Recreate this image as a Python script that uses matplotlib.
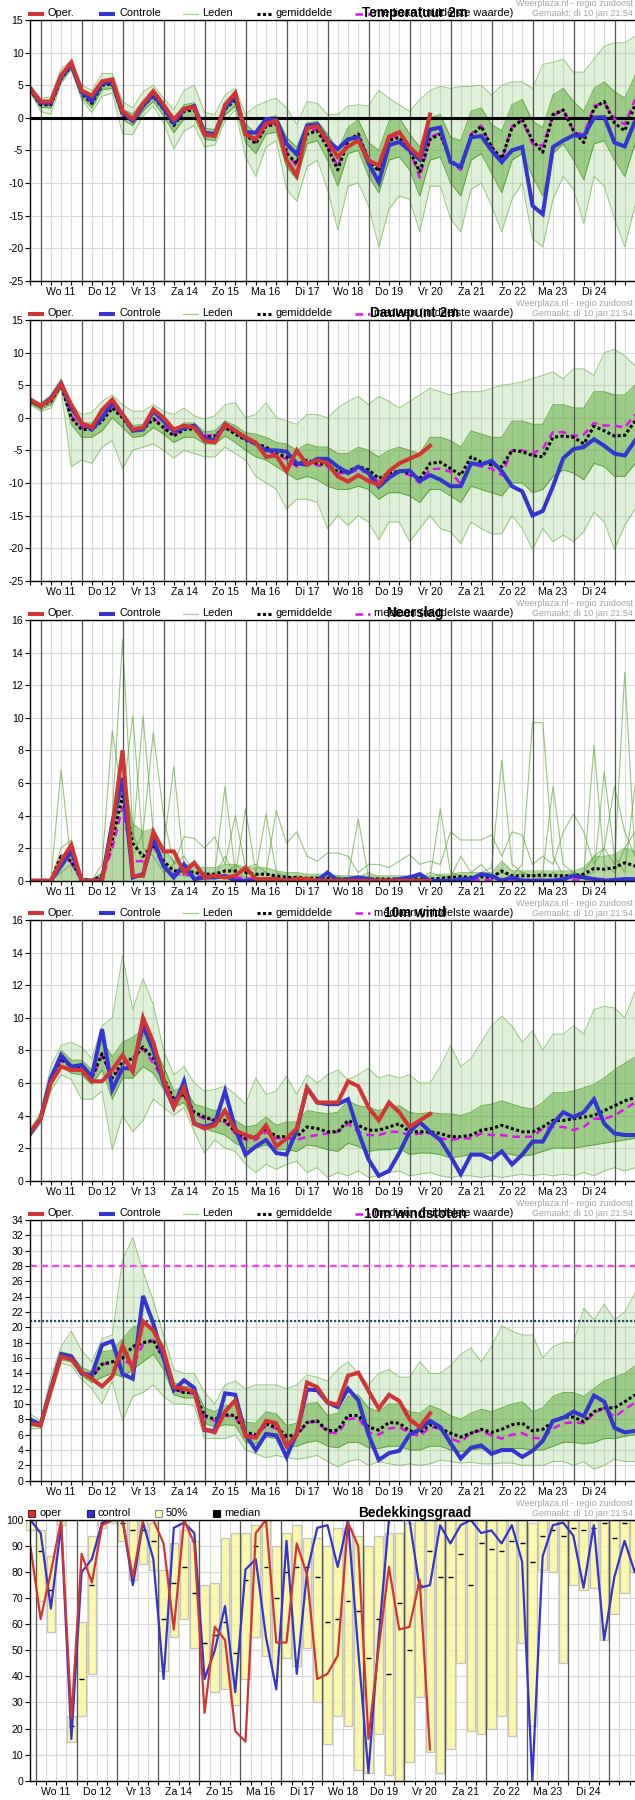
import matplotlib
matplotlib.use('Agg')
import matplotlib.pyplot as plt
from matplotlib.lines import Line2D
from matplotlib.patches import Rectangle
import numpy as np

plt.rcParams['font.family'] = ['Liberation Sans', 'DejaVu Sans']

# ---------------- data ----------------
day_labels = ['Wo 11', 'Do 12', 'Vr 13', 'Za 14', 'Zo 15', 'Ma 16', 'Di 17',
              'Wo 18', 'Do 19', 'Vr 20', 'Za 21', 'Zo 22', 'Ma 23', 'Di 24']
titles = ['Temperatuur 2m', 'Dauwpunt 2m', 'Neerslag', '10m wind', '10m windstoten', 'Bedekkingsgraad']
legend_labels = ['Oper.', 'Controle', 'Leden', 'gemiddelde', 'mediaan (middelste waarde)']
legend6_labels = ['oper', 'control', '50%', 'median']
site_text = 'Weerplaza.nl - regio zuidoost'
made_text = 'Gemaakt: di 10 jan 21:54'
gust_thresholds = [20.8, 28.0]

# Temperature 2m
T_oper = [4.5,2.5,2.5,6.5,8.5,4.2,3.4,5.6,5.9,1.0, -0.2,2.2,4.1,2.0,-0.3,1.4,1.6,-2.6,-2.8,2.0,
          3.8,-2.5,-3.3,-0.9,-0.5,-6.5,-8.9,-1.6,-1.3,-3.6, -6.0,-4.4,-3.5,-6.6,-7.3,-2.9,-2.2,-4.5,-6.0,0.5]
T_ctrl = [4.5,2.3,2.3,6.3,8.2,4.0,2.6,5.3,5.5,0.8, -0.5,1.8,3.6,1.5,-0.8,1.3,1.8,-2.3,-2.5,1.5,
          3.3,-2.2,-2.3,-0.2,-0.3,-4.0,-5.6,-1.2,-1.0,-3.5, -4.8,-3.3,-3.0,-7.0,-9.9,-4.2,-3.7,-5.0,-6.4,-1.8,
          -1.5,-6.8,-7.5,-3.0,-2.8,-5.0,-6.8,-5.0,-4.5,-13.5, -14.8,-4.5,-3.5,-2.7,-2.8,0.0,0.1,-3.8,-4.4,-0.5]
T_mean = [4.3,2.0,2.0,6.0,8.0,3.8,2.2,5.0,5.2,0.5, -0.3,1.8,3.3,1.3,-1.2,1.0,1.2,-2.5,-2.8,1.3,
          2.8,-2.5,-4.0,-1.3,-1.0,-5.5,-7.0,-2.5,-2.0,-4.5, -8.0,-3.5,-2.5,-6.5,-8.2,-3.5,-3.0,-5.0,-8.3,-3.3,
          -2.5,-6.5,-7.8,-2.8,-1.3,-4.5,-6.3,-1.5,-0.3,-3.5, -5.3,0.5,1.2,-2.0,-3.8,1.5,2.5,-0.8,-2.0,2.0]
T_med = [4.3,2.0,2.0,6.0,8.0,3.8,2.3,5.2,5.3,0.6, -0.3,1.8,3.4,1.3,-1.0,1.2,1.3,-2.4,-2.7,1.5,
         3.0,-2.3,-3.8,-1.2,-0.8,-5.2,-7.5,-2.2,-1.8,-4.3, -7.5,-3.3,-2.8,-6.2,-8.0,-3.2,-2.7,-4.8,-9.2,-3.0,
         -2.3,-6.8,-8.0,-2.5,-1.2,-4.5,-6.5,-1.3,-0.3,-4.0, -4.3,0.3,1.2,-2.0,-2.7,1.8,2.3,-0.2,-1.0,2.8]
T_lo = [4.0,1.0,0.5,5.3,7.3,2.8,0.8,3.3,3.8,-2.5, -2.6,0.3,1.8,-0.8,-4.8,-2.0,-1.2,-4.5,-4.2,-0.5,
        1.2,-6.0,-9.0,-4.5,-3.5,-11.0,-12.8,-7.5,-6.5,-11.0, -17.2,-10.5,-10.0,-13.5,-19.8,-14.0,-12.0,-12.5,-17.5,-10.5,
        -10.5,-15.5,-17.5,-11.0,-10.0,-13.5,-17.5,-12.5,-10.0,-18.5, -19.8,-12.5,-9.0,-11.0,-16.2,-9.0,-10.5,-15.5,-19.8,-13.5]
T_hi = [5.0,3.0,3.2,7.5,8.8,5.0,4.2,6.8,6.8,2.5, 1.5,4.0,5.0,3.0,1.2,4.2,5.0,0.8,0.5,3.5,
        4.5,0.5,1.8,2.5,3.0,1.5,-1.0,2.5,2.2,0.5, 0.5,1.8,2.0,1.8,4.2,3.0,2.0,1.0,2.8,4.2,
        4.8,4.5,4.8,4.8,5.0,3.5,5.0,5.5,5.5,4.5, 8.2,8.5,9.0,7.0,7.0,9.0,11.0,11.5,11.5,12.5]
T_q1 = [3.9,1.6,1.5,5.6,7.6,3.2,1.5,4.3,4.5,-0.3, -1.2,1.0,2.5,0.3,-2.3,-0.2,0.0,-3.3,-3.5,0.4,
        1.8,-3.8,-5.5,-2.5,-2.2,-7.5,-9.5,-4.0,-3.5,-6.5, -10.5,-5.5,-5.0,-9.0,-11.5,-6.5,-6.0,-8.0,-12.0,-6.5,
        -6.0,-10.0,-12.0,-6.5,-5.5,-8.5,-11.5,-6.5,-5.5,-9.0, -12.0,-5.5,-4.0,-6.5,-9.5,-4.0,-3.5,-6.5,-9.0,-4.0]
T_q3 = [4.7,2.5,2.5,6.5,8.4,4.4,3.0,5.7,5.9,1.3, 0.6,2.6,4.0,2.2,0.0,2.0,2.3,-1.6,-1.8,2.2,
        3.6,-1.0,-2.3,0.0,0.3,-3.0,-4.5,-0.8,-0.5,-2.5, -5.0,-1.5,-0.3,-3.8,-5.0,-0.5,0.0,-2.5,-4.5,0.0,
        0.5,-3.0,-3.5,1.0,1.5,-1.0,-2.0,2.0,2.8,-0.5, -1.5,3.5,4.5,2.5,1.0,4.5,5.5,4.0,3.0,6.5]

# Dew point 2m
D_oper = [2.8,1.8,2.8,5.2,2.0,-0.8,-1.5,1.2,2.8,0.5, -1.8,-1.5,1.3,0.0,-1.8,-1.2,-1.5,-3.5,-3.8,-1.0,
          -2.0,-3.0,-3.8,-6.0,-5.8,-8.2,-5.0,-7.2,-6.5,-7.0, -9.0,-9.8,-8.8,-9.7,-10.3,-8.2,-7.0,-6.3,-5.6,-4.3]
D_ctrl = [2.7,1.8,3.0,5.3,1.5,-0.8,-1.8,0.0,2.3,0.5, -2.0,-1.8,1.0,-0.5,-2.0,-1.6,-1.2,-3.2,-3.4,-1.0,
          -2.0,-3.2,-4.0,-5.0,-5.0,-5.2,-7.0,-7.2,-6.3,-6.3, -7.5,-8.5,-7.5,-8.5,-10.6,-9.2,-8.2,-8.1,-9.7,-8.8,
          -9.5,-10.5,-10.5,-7.0,-7.2,-6.6,-8.2,-10.5,-11.3,-15.0, -14.3,-10.5,-6.2,-4.8,-4.5,-3.3,-4.3,-5.5,-5.8,-3.5]
D_mean = [2.5,1.8,2.5,5.0,0.0,-1.8,-1.8,-0.5,1.5,0.0, -2.0,-1.8,-0.2,-1.5,-2.8,-1.8,-1.7,-3.0,-2.8,-1.5,
          -2.5,-3.4,-4.0,-4.5,-5.5,-6.0,-7.2,-6.5,-7.0,-7.2, -8.3,-8.2,-7.5,-8.0,-9.3,-8.5,-8.2,-8.5,-9.4,-7.0,
          -6.8,-7.8,-8.8,-6.0,-6.8,-7.2,-7.5,-5.0,-5.2,-5.8, -6.0,-3.0,-2.8,-3.0,-4.0,-1.3,-2.0,-2.8,-2.7,-0.5]
D_med = [2.6,1.8,2.6,5.1,0.3,-1.5,-1.6,-0.2,1.8,0.2, -1.8,-1.6,0.0,-1.3,-2.6,-1.6,-1.5,-2.8,-2.6,-1.3,
         -2.3,-3.3,-4.0,-4.8,-5.8,-6.3,-7.5,-6.8,-7.3,-7.5, -8.5,-8.5,-8.0,-8.5,-9.8,-8.7,-8.3,-8.8,-10.0,-7.9,
         -7.8,-8.3,-10.2,-7.0,-7.5,-7.8,-8.8,-5.0,-5.0,-5.5, -4.7,-2.2,-2.2,-2.8,-2.6,-0.8,-1.2,-1.2,-1.5,0.5]
D_lo = [2.0,1.0,1.5,4.5,-7.5,-6.5,-7.0,-4.5,-3.5,-7.8, -5.0,-4.5,-4.0,-5.0,-6.2,-5.0,-5.5,-6.0,-6.0,-4.5,
        -5.5,-6.5,-9.0,-10.0,-11.0,-14.0,-12.5,-12.5,-13.0,-17.0, -15.0,-16.5,-15.0,-16.0,-18.7,-16.0,-16.0,-19.0,-17.0,-15.0,
        -17.0,-17.5,-19.3,-16.0,-17.0,-17.8,-17.8,-15.0,-17.0,-20.2, -17.0,-19.0,-18.0,-19.0,-17.5,-14.5,-16.0,-20.2,-16.5,-14.0]
D_hi = [3.0,2.3,3.5,6.0,2.0,0.5,0.8,2.5,3.5,2.0, 1.0,1.0,2.0,1.0,0.5,1.5,0.3,-0.2,0.3,2.0,
        2.3,0.0,0.5,2.3,0.0,-0.5,-1.0,0.5,0.5,0.0, 1.5,2.5,3.3,2.0,3.3,2.5,1.5,2.5,3.5,4.5,
        4.0,3.5,4.0,4.0,4.0,4.5,5.0,5.2,5.5,6.0, 6.5,7.0,6.0,7.5,7.5,6.5,10.0,10.5,9.5,8.0]
D_q1 = [2.2,1.3,2.0,4.8,-1.0,-3.0,-3.0,-2.0,0.0,-1.5, -3.0,-2.8,-1.5,-2.5,-3.8,-3.0,-3.0,-4.0,-4.0,-2.8,
        -3.8,-5.0,-6.0,-6.5,-7.5,-8.5,-9.5,-9.0,-9.5,-10.5, -11.0,-11.0,-10.5,-11.0,-12.5,-11.5,-11.5,-12.0,-13.0,-11.0,
        -11.0,-12.0,-13.0,-10.5,-11.0,-11.5,-12.0,-10.0,-10.0,-11.5, -11.0,-9.0,-8.0,-8.5,-9.5,-7.0,-7.5,-9.0,-9.0,-7.0]
D_q3 = [2.8,2.0,2.9,5.3,1.0,-0.8,-0.8,0.8,2.5,0.8, -1.2,-1.0,0.8,-0.5,-1.8,-0.8,-0.8,-2.2,-2.0,-0.5,
        -1.2,-2.3,-2.5,-3.0,-3.8,-4.0,-5.0,-4.0,-4.5,-4.5, -5.5,-5.5,-4.5,-5.0,-6.0,-5.0,-4.5,-5.0,-5.5,-3.0,
        -3.0,-3.5,-4.5,-2.0,-2.5,-3.0,-3.0,-0.5,-0.5,-1.0, -1.0,2.0,2.0,1.5,1.5,4.0,4.0,3.5,3.5,5.0]

# Precipitation
P_oper = [0,0,0,1.2,2.2,0,0,0,3.2,8.0, 0.3,0.3,3.0,1.8,1.8,0.5,1.1,0.2,0.3,0.2,
          0.3,0.8,0.1,0.1,0.1,0.0,0.1,0.1,0.0,0.0, 0,0,0,0,0,0,0,0,0,0]
P_ctrl = [0,0,0,0.9,1.8,0,0,0.1,3.5,6.3, 0.2,0.4,2.6,0.9,0.2,1.0,0.1,0.2,0.2,0.3,
          0,0,0,0,0,0,0.1,0,0,0.5, 0,0.1,0.2,0.1,0,0,0.1,0.2,0.4,0,
          0,0,0.1,0.1,0.4,0.3,0,0.2,0,0, 0,0,0.1,0.3,0.2,0.1,0,0.05,0.1,0.1]
P_mean = [0,0,0,1.5,1.2,0.1,0,0.3,2.5,5.2, 2.3,1.5,2.2,1.2,0.6,0.6,0.5,0.4,0.4,0.6,
          0.6,0.5,0.4,0.4,0.3,0.2,0.2,0.15,0.15,0.15, 0.1,0.1,0.15,0.1,0.1,0.1,0.1,0.1,0.1,0.1,
          0.15,0.2,0.25,0.2,0.25,0.2,0.6,0.3,0.3,0.3, 0.35,0.3,0.3,0.3,0.4,0.75,0.7,0.8,1.1,0.9]
P_med = [0,0,0,1.1,1.1,0,0,0.1,2.0,4.5, 1.2,1.2,2.2,0.8,0.4,0.4,0.3,0.2,0.2,0.2,
         0.2,0.15,0.1,0.1,0.05,0.05,0.05,0,0,0, 0,0,0,0,0,0,0,0,0,0,
         0,0,0.05,0.05,0.05,0.05,0.1,0.05,0.05,0.05, 0.05,0.05,0.05,0.05,0.1,0.1,0.1,0.05,0.1,0.1]
P_m1 = [0,0,0,6.8,1.0,0,0,0.5,4.0,14.8, 3.0,1.0,2.0,1.0,0.5,0.3,0.2,0.2,0.5,5.8,
        0.5,0.2,0.1,0.1,0.3,0.2,0.1,0,0,0.1, 0.2,0.1,0,0,0.1,0,0,0.3,0.1,0,
        0.1,0.3,0.2,0.1,0.5,0.8,7.4,1.0,0.5,0.3, 0.2,0.5,0.3,0.2,0.5,1.5,2.0,1.0,12.8,1.5]
P_m2 = [0,0,0,2.0,2.5,0.1,0,1.0,9.2,5.0, 10.1,2.0,1.5,0.5,1.0,1.5,0.5,0.2,0.3,0.2,
        1.0,0.5,0.3,0.5,0.2,0.1,0.3,0.1,0.1,0.2, 0.1,0.2,3.8,0.2,0.1,0.1,0,0.1,0.2,0.1,
        4.4,0.5,0.3,0.2,0.1,0.2,0.5,0.3,1.0,9.7, 9.7,1.5,0.3,0.5,0.3,8.3,1.0,0.5,2.0,3.0]
P_m3 = [0,0,0,1.0,2.0,0,0,0.2,3.0,8.0, 2.5,10.1,3.0,2.0,7.0,0.8,1.2,0.5,0.3,1.5,
        0.3,4.4,0.5,4.1,0.5,0.3,0.2,0.2,0.3,0.1, 0.3,0.1,0.2,0.5,0.2,0.1,0.2,0.2,0.1,0.5,
        0.3,0.2,1.5,0.5,1.0,0.3,0.5,0.2,0.5,0.3, 0.5,5.8,1.0,0.5,0.3,0.5,6.7,1.5,0.5,5.8]
P_m4 = [0,0,0,0.5,1.0,0.2,0.1,0.3,2.0,6.0, 1.5,3.0,9.1,4.0,1.0,2.7,2.6,2.0,2.7,1.0,
        4.0,0.8,1.0,0.5,4.3,2.3,3.0,1.5,1.2,1.7, 1.7,1.5,0.5,1.0,1.0,0.8,1.2,1.6,1.0,1.2,
        1.0,3.0,2.5,2.5,2.5,2.8,1.5,3.0,2.8,1.0, 1.5,1.0,3.0,4.1,3.0,1.0,2.0,5.8,3.0,1.5]
P_q3 = [0.05,0.05,0.05,1.6,1.6,0.1,0.05,0.5,4.0,6.5, 3.5,3.0,3.2,2.0,1.2,1.0,0.9,0.8,0.8,1.0,
        1.0,0.8,0.8,0.8,0.6,0.5,0.5,0.4,0.4,0.4, 0.3,0.3,0.3,0.3,0.3,0.3,0.3,0.3,0.3,0.3,
        0.4,0.4,0.5,0.5,0.5,0.5,1.2,0.6,0.6,0.6, 0.6,0.6,0.6,0.6,0.8,1.5,1.5,1.6,2.0,1.8]

# 10m wind
W_oper = [3.0,3.8,6.0,7.0,6.8,6.8,6.1,6.1,6.8,7.7, 6.7,10.0,8.5,6.2,4.5,5.7,3.5,3.2,3.4,4.3,
          3.1,2.8,2.6,3.4,2.1,2.6,3.2,5.7,4.8,4.8, 4.8,6.1,5.8,4.5,3.7,4.8,4.2,3.3,3.7,4.1]
W_ctrl = [2.9,3.8,6.3,7.7,7.0,7.1,6.4,9.3,5.6,6.9, 6.9,9.5,8.0,6.0,4.5,6.1,3.5,3.3,3.5,5.5,
          3.2,1.6,2.1,2.5,1.7,1.6,3.1,5.7,4.8,4.7, 4.7,5.0,3.0,1.3,0.3,0.6,1.7,3.0,3.6,3.0,
          2.5,1.5,0.4,1.6,1.6,1.3,1.8,1.0,1.6,2.4, 2.4,3.5,4.2,3.9,4.2,5.0,3.5,2.9,2.8,2.8]
W_mean = [3.0,3.8,6.0,7.5,7.0,7.0,6.3,7.8,6.3,7.3, 7.5,8.2,7.5,6.3,5.0,5.3,4.2,3.9,3.7,3.7,
          3.0,2.6,2.7,3.2,2.7,2.7,2.7,3.3,3.2,3.0, 3.0,3.7,3.4,3.1,3.1,3.3,3.5,3.0,3.0,3.0,
          2.9,2.7,2.7,2.8,3.1,3.2,3.4,3.2,3.0,3.0, 3.3,3.7,3.7,3.8,3.9,4.0,4.3,4.6,4.9,5.1]
W_med = [3.0,3.8,6.0,7.4,7.0,6.9,6.2,7.7,6.2,7.2, 7.4,8.1,7.2,6.2,4.9,5.2,4.1,3.8,3.7,3.6,
         2.9,2.5,2.5,3.0,2.6,2.6,2.5,2.7,2.8,2.9, 3.0,3.5,3.0,2.8,2.8,3.0,3.0,2.8,2.9,2.9,
         2.6,2.5,2.6,2.6,2.9,2.8,2.8,2.7,2.7,2.7, 3.2,3.3,3.3,3.1,3.3,3.8,3.8,4.0,4.4,4.8]
W_lo = [2.7,3.5,5.5,6.5,6.2,5.0,5.0,5.5,1.9,4.0, 3.0,3.7,5.0,4.5,4.0,4.5,3.0,1.7,2.5,2.0,
        1.8,1.0,0.5,1.0,0.7,1.0,1.2,0.5,0.8,0.2, 0.5,0.3,0.6,0.2,0.3,0.5,0.6,0.3,0.4,0.5,
        0.3,0.2,0.3,0.3,0.2,0.3,0.2,0.3,0.4,0.3, 0.4,0.3,0.4,0.3,0.5,0.3,0.6,0.8,0.6,0.8]
W_hi = [3.2,4.2,7.0,8.3,8.5,8.2,7.5,9.5,10.0,13.8, 10.5,12.4,10.8,8.0,6.5,7.0,6.0,5.5,5.6,5.8,
        5.3,4.7,6.3,5.3,5.5,6.4,5.3,6.5,6.0,6.5, 6.8,6.2,6.5,6.9,6.3,6.5,6.3,6.5,6.0,6.0,
        7.0,8.3,7.0,7.5,8.5,9.5,10.1,9.5,8.5,9.2, 8.0,9.0,9.0,9.5,9.0,10.5,10.7,10.6,10.0,11.6]
W_q1 = [2.9,3.7,5.8,7.0,6.6,6.5,5.9,6.8,5.0,6.3, 6.3,7.0,6.6,5.6,4.5,4.8,3.6,3.2,3.0,2.8,
        2.3,2.0,2.0,2.2,1.9,1.9,1.8,2.2,2.1,1.9, 1.8,2.3,2.1,1.8,1.9,1.9,2.0,1.6,1.7,1.7,
        1.6,1.4,1.5,1.6,1.7,1.7,1.7,1.6,1.5,1.6, 1.8,2.0,2.0,2.0,2.1,2.2,2.3,2.4,2.5,2.6]
W_q3 = [3.1,4.0,6.3,8.0,7.4,7.4,6.8,8.6,7.6,8.5, 8.8,9.3,8.4,7.0,5.5,5.8,4.7,4.5,4.3,4.4,
        3.7,3.3,3.4,3.9,3.4,3.6,3.6,4.3,4.2,4.1, 4.2,4.9,4.6,4.5,4.3,4.5,4.6,4.2,4.1,4.2,
        4.1,4.1,4.0,4.2,4.6,4.7,4.9,4.7,4.5,4.4, 4.8,5.4,5.4,5.5,5.7,5.9,6.3,6.8,7.2,7.6]

# 10m gusts
G_oper = [7.5,7.2,11.8,16.2,15.8,14.2,13.3,12.3,13.6,17.6, 14.6,20.8,19.6,17.0,12.2,12.0,11.6,6.7,6.3,9.0,
          10.5,5.8,5.6,7.8,7.5,4.5,6.0,12.8,12.2,10.2, 9.9,13.7,14.1,11.7,9.4,11.2,10.4,8.0,7.0,8.8]
G_ctrl = [8.0,7.3,12.0,16.5,16.2,14.0,13.8,17.7,18.2,13.9, 13.3,24.1,20.5,16.0,11.8,13.1,12.1,6.6,6.5,11.4,
          11.2,6.0,4.0,6.1,5.9,3.1,6.2,11.9,11.8,10.2, 9.6,12.0,10.5,6.0,2.7,3.6,3.9,6.0,6.7,7.8,
          7.0,4.9,2.9,4.3,4.6,3.5,4.0,4.0,3.1,3.9, 5.2,7.8,8.2,9.0,8.4,11.1,10.3,6.9,6.3,6.5]
G_mean = [7.5,7.2,12.0,16.3,16.0,14.2,13.5,15.2,15.5,16.0, 17.5,18.0,18.3,16.0,12.0,11.5,11.5,8.5,8.0,8.6,
          8.5,6.3,6.0,7.4,7.0,5.8,6.0,7.6,7.8,6.5, 6.6,8.5,8.5,7.0,6.6,7.6,7.5,6.5,6.3,7.3,
          6.8,6.2,5.7,6.2,6.7,6.3,6.7,7.3,7.5,6.5, 6.7,7.7,8.3,8.3,7.7,9.0,9.5,9.5,10.3,11.2]
G_med = [7.5,7.2,12.0,16.2,15.9,14.2,13.5,15.2,15.3,15.8, 15.0,17.8,18.3,16.0,12.0,11.5,11.3,8.3,7.8,8.5,
         8.3,6.1,5.8,7.2,6.8,5.5,5.8,7.6,7.7,6.3, 6.2,8.0,8.2,6.3,6.0,6.8,7.0,6.2,5.8,7.0,
         6.8,5.5,5.0,6.3,6.5,5.9,5.5,6.0,6.2,5.6, 5.5,6.8,7.5,7.6,7.5,8.8,9.5,8.3,9.3,10.2]
G_lo = [6.8,6.8,11.0,15.3,15.0,13.2,12.0,10.0,13.0,7.8, 11.0,11.5,12.5,11.0,10.0,10.0,9.8,5.5,5.5,5.5,
        6.0,4.0,3.5,3.0,3.3,3.0,2.8,3.0,3.3,2.5, 1.8,2.5,2.8,2.0,2.5,2.2,2.0,2.2,2.0,2.2,
        2.7,2.5,2.3,2.4,2.2,2.2,2.3,2.3,2.0,2.0, 2.0,2.5,2.5,2.0,2.5,1.5,2.0,2.8,2.5,2.5]
G_hi = [8.7,7.8,13.5,17.5,19.5,17.0,15.5,18.5,19.0,28.8, 31.7,27.3,23.5,19.0,14.5,14.0,14.0,11.5,10.0,12.5,
        13.0,12.0,12.5,12.5,12.5,12.0,12.5,13.8,13.5,13.0, 14.5,15.5,14.0,12.5,14.0,14.5,13.5,13.5,15.5,14.0,
        14.0,15.0,16.5,17.3,15.5,17.5,20.2,19.5,19.0,19.0, 16.0,17.5,18.0,18.0,22.5,21.0,23.0,21.0,22.0,24.5]
G_q1 = [7.2,7.0,11.5,15.8,15.5,13.7,12.8,13.5,14.0,13.5, 14.5,15.5,16.5,14.5,11.2,10.8,10.8,7.5,7.0,7.3,
        7.2,5.0,4.8,5.7,5.5,4.5,4.5,5.0,5.2,4.5, 4.3,5.0,5.0,4.3,4.2,4.5,4.5,4.0,4.0,4.5,
        4.5,4.0,3.8,4.0,4.2,4.0,4.0,4.2,4.2,4.0, 4.0,4.5,5.0,5.0,4.8,5.0,5.5,5.5,5.8,6.0]
G_q3 = [7.8,7.4,12.5,16.8,16.5,14.8,14.2,16.8,17.0,18.5, 20.0,20.5,20.0,17.5,12.8,12.3,12.3,9.5,9.0,9.8,
        9.8,7.6,7.5,9.0,8.7,7.2,7.5,10.0,10.2,8.5, 8.8,11.0,11.2,9.5,9.0,10.0,10.0,9.0,8.8,9.8,
        9.3,8.5,8.0,8.8,9.3,9.0,9.5,10.0,10.3,9.0, 9.5,11.0,11.5,11.5,11.0,12.0,13.0,13.5,14.0,15.0]

# Cloud cover
C_oper = [90,62,80,100,24,87,76,98,100,100, 78,100,100,91,58,100,91,26,59,54,
          19,15,95,100,53,53,91,79,39,41, 48,99,90,16,51,82,58,59,77,12]
C_ctrl = [100,95,66,98,16,80,85,99,100,100, 75,99,85,39,97,99,95,39,50,67,
          34,81,85,55,35,92,41,80,97,98, 82,100,50,3,55,100,100,100,74,75,
          98,91,98,100,95,96,91,98,84,0, 86,98,99,94,74,98,54,78,92,80]
C_q25 = [96,69,57,98,15,25,41,97,99,92, 77,83,81,42,55,62,51,41,34,35,
         29,39,55,48,40,47,44,51,30,14, 25,21,4,3,18,2,0,7,32,11,
         3,12,45,19,18,20,25,17,53,21, 81,80,45,75,73,74,54,64,72,80]
C_q75 = [100,96,86,100,25,61,94,100,100,100, 100,100,99,81,91,96,92,75,76,93,
         95,95,98,100,90,95,98,93,93,90, 97,97,94,90,94,95,95,99,100,100,
         100,100,100,100,100,100,100,100,100,99, 100,100,100,100,100,100,100,100,100,100]
C_p50 = [100,88,73,100,21,39,75,99,100,99, 96,96,92,62,76,82,72,53,56,61,
         49,77,90,82,70,80,82,82,78,61, 62,69,65,47,62,41,68,50,75,88,
         78,78,87,75,91,89,88,92,91,84, 94,96,94,97,96,97,99,93,99,100]

# ---------------- styling ----------------
W, H = 635, 1800
RED = '#d23434'
BLUE = '#3434d0'
MAG = '#e010f0'
DAYC = '#555555'
GRIDC = '#d9d9d9'

fig = plt.figure(figsize=(W / 100, H / 100), dpi=100)


def fx(x):
    return x / W


def fy(y):
    return 1 - y / H


def make_axes(l, t, r, b):
    return fig.add_axes([l / W, 1 - b / H, (r - l) / W, (b - t) / H])


def style_axes(ax, xmin, xmax, ymin, ymax, ystep):
    ax.set_xlim(xmin, xmax)
    ax.set_ylim(ymin, ymax)
    yt = np.arange(ymin, ymax + 1e-6, ystep)
    ax.set_yticks(yt)
    ax.set_yticklabels(['%g' % v for v in yt])
    for v in yt:
        ax.axhline(v, color=GRIDC, lw=0.8, zorder=0)
    xt = np.arange(-0.25, xmax + 1e-6, 0.25)
    xt = xt[xt >= xmin - 1e-6]
    labs = []
    for x in xt:
        d = x - 0.5
        if abs(d - round(d)) < 1e-6 and 0 <= round(d) < len(day_labels):
            labs.append(day_labels[int(round(d))])
        else:
            labs.append('')
        if abs(x - round(x)) < 1e-6:
            ax.axvline(x, color=DAYC, lw=0.9, zorder=2.2)
        else:
            ax.axvline(x, color=GRIDC, lw=0.8, zorder=0)
    ax.set_xticks(xt)
    ax.set_xticklabels(labs)
    ax.tick_params(axis='x', length=3, width=0.8, pad=1.5, labelsize=7.6)
    ax.tick_params(axis='y', length=3.5, width=0.8, pad=1.5, labelsize=7.6)
    for s in ('top', 'left', 'bottom'):
        ax.spines[s].set_color('black')
        ax.spines[s].set_linewidth(1.0)
        ax.spines[s].set_zorder(6)
    ax.spines['right'].set_visible(False)
    ax.set_facecolor('white')


def header(y0):
    fig.text(fx(633), fy(y0 + 3.8), site_text, ha='right', va='center', fontsize=6.5, color='#a3a3ab')
    fig.text(fx(633), fy(y0 + 13.3), made_text, ha='right', va='center', fontsize=6.5, color='#a3a3ab')


def title_text(y0, title):
    fig.text(fx(415), fy(y0 + 13.5), title, ha='center', va='center', fontsize=9.8,
             fontweight='bold', color='black', zorder=10)


def legend(y0):
    yy = fy(y0 + 13.5)
    specs = [(28, 44, dict(color=RED, lw=2.9, solid_capstyle='butt')),
             (99, 115, dict(color=BLUE, lw=2.9, solid_capstyle='butt')),
             (183, 198, dict(color='#9fd08a', lw=0.9)),
             (257, 271, dict(color='black', lw=2.2, ls=(0, (1, 0.8)))),
             (355, 370, dict(color=MAG, lw=1.8, ls=(0, (3, 2))))]
    for (x1, x2, st), lab in zip(specs, legend_labels):
        fig.add_artist(Line2D([fx(x1), fx(x2)], [yy, yy], transform=fig.transFigure, **st))
        fig.text(fx(x2 + 4), yy, lab, ha='left', va='center', fontsize=7.9)


t = -0.25 + 0.25 * np.arange(60)
t_op = t[:40]


def draw_core(ax, oper, ctrl, mean, med):
    ax.plot(t, med, color=MAG, lw=1.8, ls=(0, (3, 2)), zorder=3)
    ax.plot(t, mean, color='black', lw=2.2, ls=(0, (1, 0.8)), zorder=3.2)
    ax.plot(t, ctrl, color=BLUE, lw=2.9, zorder=4, solid_joinstyle='miter')
    ax.plot(t_op, oper, color=RED, lw=2.9, zorder=5, solid_joinstyle='miter')


def draw_members(ax, lo, q1, q3, hi):
    ax.fill_between(t, lo, hi, color='#9ad282', alpha=0.30, lw=0, zorder=1)
    ax.fill_between(t, q1, q3, color='#5aa836', alpha=0.50, lw=0, zorder=1.1)
    for arr in (lo, hi):
        ax.plot(t, arr, color='#74bb55', lw=0.7, alpha=0.75, zorder=1.3)
    for arr in (q1, q3):
        ax.plot(t, arr, color='#449624', lw=0.7, alpha=0.75, zorder=1.3)


panels = [
    (T_oper, T_ctrl, T_mean, T_med, (T_lo, T_q1, T_q3, T_hi), (-25, 15, 5)),
    (D_oper, D_ctrl, D_mean, D_med, (D_lo, D_q1, D_q3, D_hi), (-25, 15, 5)),
    (P_oper, P_ctrl, P_mean, P_med, None, (0, 16, 2)),
    (W_oper, W_ctrl, W_mean, W_med, (W_lo, W_q1, W_q3, W_hi), (0, 16, 2)),
    (G_oper, G_ctrl, G_mean, G_med, (G_lo, G_q1, G_q3, G_hi), (0, 34, 2)),
]

for i, (op, ct, mn, md, mem, (ymin, ymax, ystep)) in enumerate(panels):
    y0 = 300 * i
    ax = make_axes(30.3, y0 + 20, 635, y0 + 280.7)
    style_axes(ax, -0.25, 14.5, ymin, ymax, ystep)
    if mem is not None:
        draw_members(ax, *mem)
    else:
        ax.fill_between(t, 0, P_q3, color='#5aa836', alpha=0.45, lw=0, zorder=1)
        for arr in (P_m1, P_m2, P_m3, P_m4, P_q3):
            ax.plot(t, arr, color='#5aaa36', lw=0.8, alpha=0.65, zorder=1.3)
    if i == 0:
        ax.axhline(0, color='black', lw=2.2, zorder=2.5)
    if i == 4:
        ax.axhline(gust_thresholds[1], color='#ff3cff', lw=1.6, ls=(0, (3, 2)), zorder=2.5)
        ax.axhline(gust_thresholds[0], color='#1d5060', lw=1.6, ls=(0, (1, 0.8)), zorder=2.5)
    draw_core(ax, op, ct, mn, md)
    header(y0)
    legend(y0)
    title_text(y0, titles[i])

# ---------------- cloud cover panel ----------------
y0 = 1500
ax6 = make_axes(30.2, y0 + 20, 635, y0 + 280.7)
style_axes(ax6, -0.13, 14.63, 0, 100, 10)
tc = -0.125 + 0.25 * np.arange(60)
q25 = np.array(C_q25, float)
q75 = np.array(C_q75, float)
bars = ax6.bar(tc, q75 - q25, bottom=q25, width=0.21, color='#faf79a', alpha=0.8,
               edgecolor='#b8b8b8', linewidth=0.9, zorder=1.5)
for b in bars:
    b.set_clip_on(False)
ax6.hlines(C_p50, tc - 0.06, tc + 0.06, color='black', lw=1.0, zorder=1.8)
ax6.plot(tc, C_ctrl, color=BLUE, lw=1.6, zorder=4)
ax6.plot(tc[:40], C_oper, color=RED, lw=1.6, zorder=5)
header(y0)
yy = y0 + 13.5
sq = [(28, RED, '#6a1a1a'), (87, BLUE, '#1a1a6a'), (155, '#fbfbb0', '#909090'), (213, 'black', 'black')]
for (x, fc, ec), lab in zip(sq, legend6_labels):
    fig.add_artist(Rectangle((fx(x), fy(yy + 3.7)), 7.4 / W, 7.4 / H, transform=fig.transFigure,
                             facecolor=fc, edgecolor=ec, lw=0.8))
    fig.text(fx(x + 11), fy(yy), lab, ha='left', va='center', fontsize=7.9)
title_text(y0, titles[5])

fig.savefig('out.png', dpi=100, facecolor='white')
